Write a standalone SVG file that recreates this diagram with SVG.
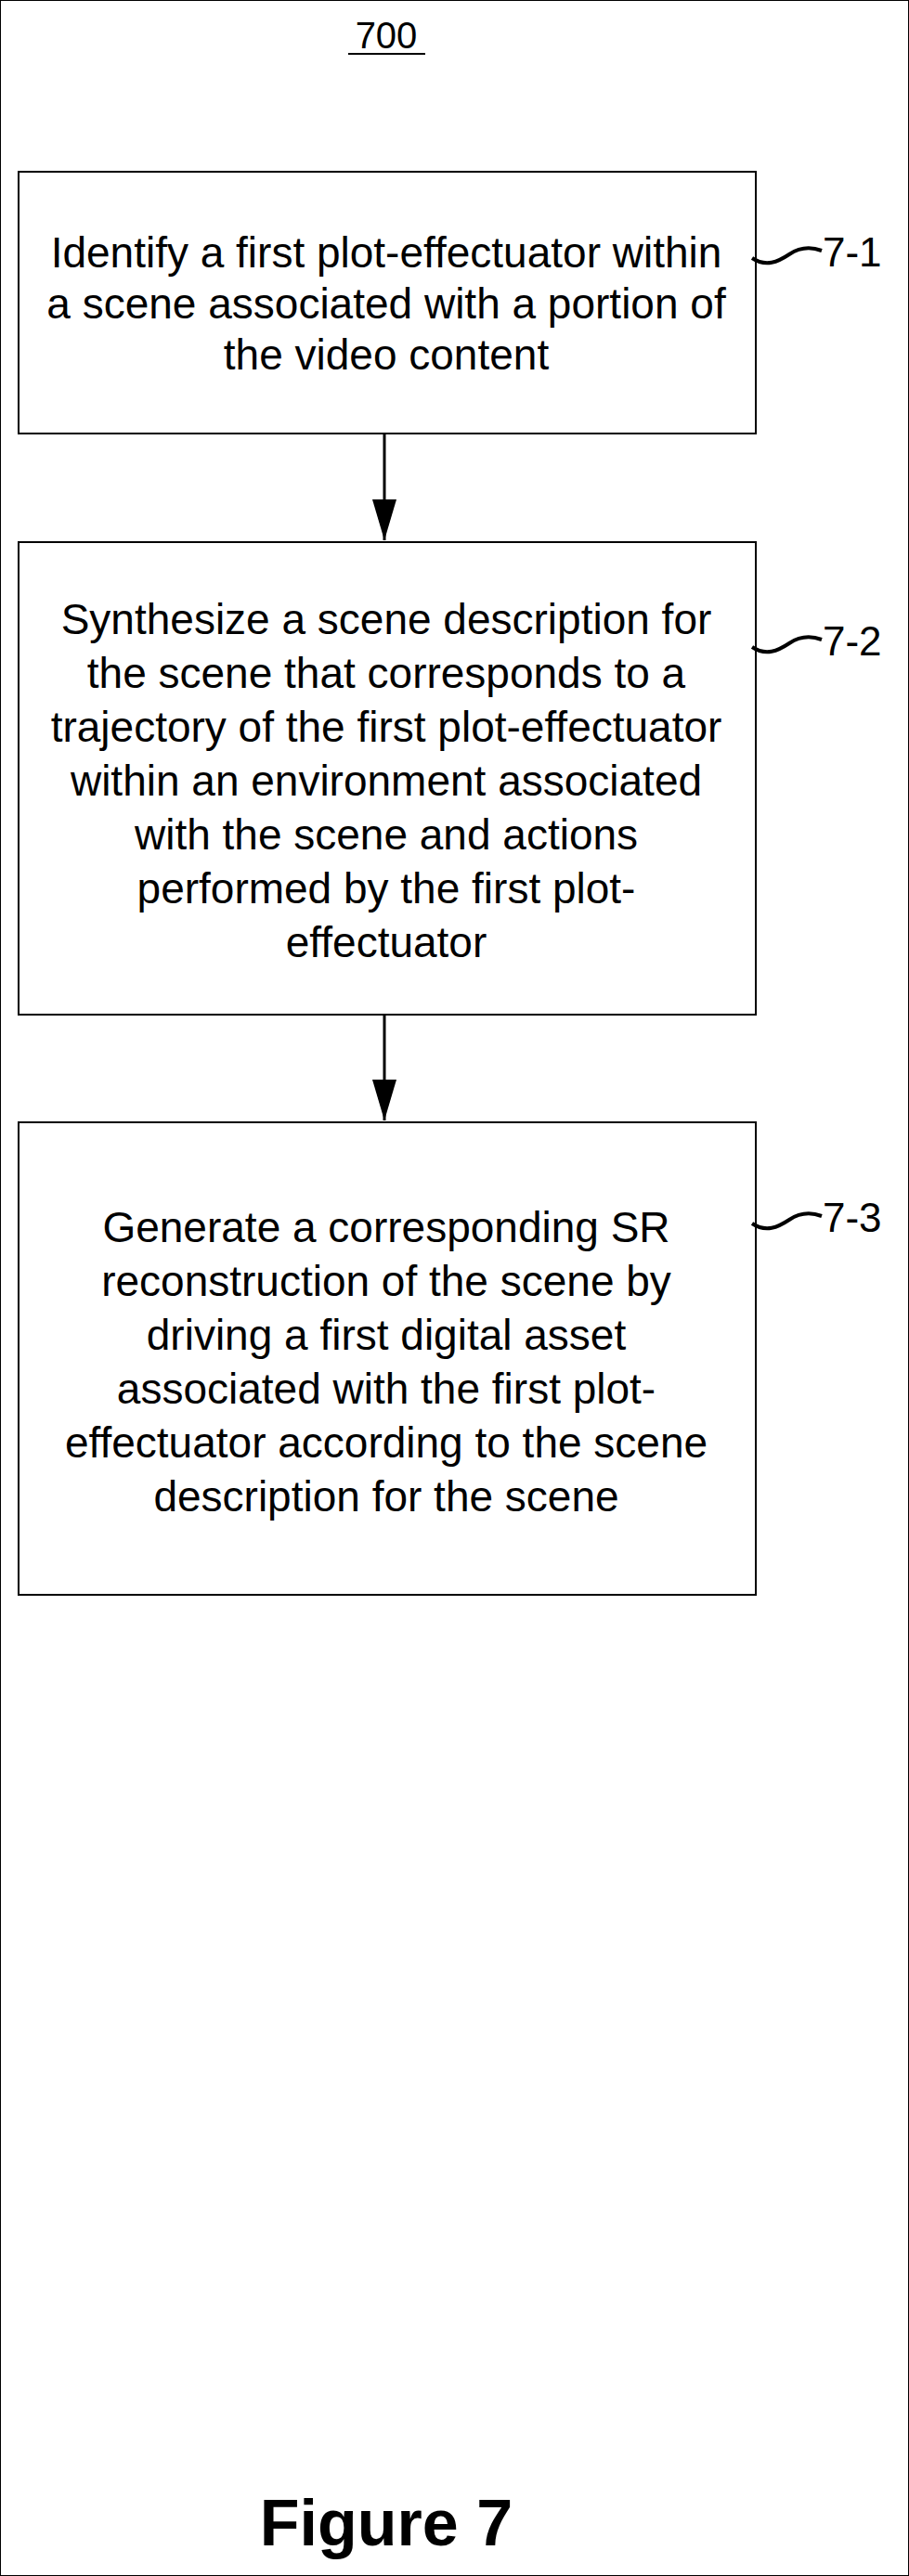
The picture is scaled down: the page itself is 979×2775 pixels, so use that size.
<svg xmlns="http://www.w3.org/2000/svg" width="979" height="2775" viewBox="0 0 979 2775">
<style>
text{font-family:"Liberation Sans",Arial,sans-serif;fill:#000}
.t{font-size:46px;text-anchor:middle}
.l{font-size:44px}
rect{fill:#fff;stroke:#000;stroke-width:2}
.c{stroke:#000;stroke-width:3;fill:none}
.s{stroke:#000;stroke-width:4;fill:none}
</style>
<defs>
<marker id="ah" viewBox="0 0 44 26" refX="44" refY="13" markerWidth="44" markerHeight="26" orient="auto" markerUnits="userSpaceOnUse"><path d="M0,0 L44,13 L0,26 z" fill="#000"/></marker></defs>
<rect width="979" height="2775" fill="#fff" stroke="none"/>
<text x="416" y="52" class="t" style="font-size:40px">700</text>
<line x1="375" y1="58" x2="458" y2="58" stroke="#000" stroke-width="2"/>
<g id="connectors">
<line class="c" x1="414" y1="467" x2="414" y2="582" marker-end="url(#ah)"/>
<line class="c" x1="414" y1="1093" x2="414" y2="1207" marker-end="url(#ah)"/>
</g>
<g id="n1">
<rect x="20" y="185" width="794" height="282"/>
<text class="t"><tspan x="416" y="288">Identify a first plot-effectuator within</tspan><tspan x="416" y="343">a scene associated with a portion of</tspan><tspan x="416" y="398">the video content</tspan></text>
<path class="s" d="M810,278 C825,288 838,282 850,274 C862,266 874,266 885,270"/>
<text class="l" x="886" y="287">7-1</text>
</g>
<g id="n2">
<rect x="20" y="584" width="794" height="509"/>
<text class="t"><tspan x="416" y="683">Synthesize a scene description for</tspan><tspan x="416" y="741">the scene that corresponds to a</tspan><tspan x="416" y="799">trajectory of the first plot-effectuator</tspan><tspan x="416" y="857">within an environment associated</tspan><tspan x="416" y="915">with the scene and actions</tspan><tspan x="416" y="973">performed by the first plot-</tspan><tspan x="416" y="1031">effectuator</tspan></text>
<path class="s" d="M810,697 C825,707 838,701 850,693 C862,685 874,685 885,689"/>
<text class="l" x="886" y="706">7-2</text>
</g>
<g id="n3">
<rect x="20" y="1209" width="794" height="509"/>
<text class="t"><tspan x="416" y="1338">Generate a corresponding SR</tspan><tspan x="416" y="1396">reconstruction of the scene by</tspan><tspan x="416" y="1454">driving a first digital asset</tspan><tspan x="416" y="1512">associated with the first plot-</tspan><tspan x="416" y="1570">effectuator according to the scene</tspan><tspan x="416" y="1628">description for the scene</tspan></text>
<path class="s" d="M810,1318 C825,1328 838,1322 850,1314 C862,1306 874,1306 885,1310"/>
<text class="l" x="886" y="1327">7-3</text>
</g>
<text x="416" y="2742" class="t" style="font-size:70px;font-weight:bold">Figure 7</text>
</svg>
